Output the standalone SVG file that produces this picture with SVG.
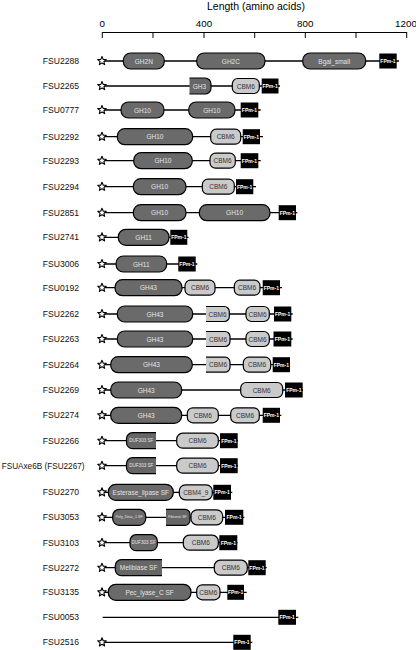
<svg xmlns="http://www.w3.org/2000/svg" width="416" height="650" viewBox="0 0 416 650">
<style>
text{font-family:"Liberation Sans",Arial,sans-serif}
.bb{stroke:#000;stroke-width:1.3}
.d{fill:#6a6a6a;stroke:#000;stroke-width:1.2}
.c{fill:#cacaca;stroke:#000;stroke-width:1.2}
.dn{fill:#666}
.cn{fill:#cacaca}
.ol{fill:none;stroke:#000;stroke-width:1.2}
.f{fill:#000}
.lbl{font-size:8.6px;text-anchor:end;fill:#111}
.dt{font-size:6.5px;fill:#e4e4e4;text-anchor:middle;dominant-baseline:central}
.ct{font-size:6.5px;fill:#333;text-anchor:middle;dominant-baseline:central}
.ft{font-size:5px;font-weight:bold;fill:#fff;text-anchor:middle;dominant-baseline:central}
.st{fill:#fff;stroke:#000;stroke-width:1.1;stroke-linejoin:round}
</style>
<defs>
<path id="star" class="st" d="M0,-4.5 L1.18,-1.62 L4.28,-1.39 L1.9,0.62 L2.65,3.64 L0,2 L-2.65,3.64 L-1.9,0.62 L-4.28,-1.39 L-1.18,-1.62 Z"/>
</defs>
<g id="axis">
<text x="256" y="10" font-size="10.5" text-anchor="middle">Length (amino acids)</text>
<text x="102.3" y="27" font-size="9.8" text-anchor="middle">0</text>
<text x="204" y="27" font-size="9.8" text-anchor="middle">400</text>
<text x="305.3" y="27" font-size="9.8" text-anchor="middle">800</text>
<text x="406" y="27" font-size="9.8" text-anchor="middle">1200</text>
<path d="M102.3,32.5 H406.7 M102.3,32 V38 M153,32.5 V38 M204,32.5 V38 M254.7,32.5 V38 M305.3,32.5 V38 M356,32.5 V38 M406.7,32 V38" stroke="#000" stroke-width="1" fill="none"/>
</g>
<g id="connectors"></g>

<g id="FSU2288">
<text class="lbl" x="79" y="64">FSU2288</text>
<line class="bb" x1="102" y1="61" x2="399" y2="61"/>
<use href="#star" x="102" y="61"/>
<rect class="d" x="123.3" y="53" width="41" height="16" rx="7.5"/><text class="dt" x="143.8" y="61">GH2N</text>
<rect class="d" x="196.7" y="53" width="68.3" height="16" rx="7.5"/><text class="dt" x="230.9" y="61">GH2C</text>
<rect class="d" x="302.7" y="53" width="63" height="16" rx="7.5"/><text class="dt" x="334.2" y="61">Bgal_small</text>
<rect class="f" x="379.3" y="53.5" width="17.4" height="15"/><text class="ft" x="388" y="61">FPm-1</text>
</g>

<g id="FSU2265">
<text class="lbl" x="79" y="89">FSU2265</text>
<line class="bb" x1="102" y1="86" x2="280" y2="86"/>
<use href="#star" x="102" y="86"/>
<path class="dn" d="M189.5,78 H205 A6,6 0 0 1 211,84 V88 A6,6 0 0 1 205,94 H189.5 Z"/><path class="ol" d="M189.5,78 H205 A6,6 0 0 1 211,84 V88 A6,6 0 0 1 205,94 H189.5"/><text class="dt" x="199.5" y="86">GH3</text>
<rect class="c" x="232.3" y="78.5" width="27" height="15" rx="5.5"/><text class="ct" x="245.8" y="86">CBM6</text>
<rect class="f" x="261.7" y="78.5" width="16.8" height="15"/><text class="ft" x="270.1" y="86">FPm-1</text>
</g>

<g id="FSU0777">
<text class="lbl" x="79" y="113">FSU0777</text>
<line class="bb" x1="102" y1="110" x2="260.7" y2="110"/>
<use href="#star" x="102" y="110"/>
<rect class="d" x="121" y="102" width="43" height="16" rx="7.5"/><text class="dt" x="142.5" y="110">GH10</text>
<rect class="d" x="188.7" y="102" width="46.3" height="16" rx="7.5"/><text class="dt" x="211.8" y="110">GH10</text>
<rect class="f" x="240.7" y="102.5" width="17.6" height="15"/><text class="ft" x="249.5" y="110">FPm-1</text>
</g>

<g id="FSU2292">
<text class="lbl" x="79" y="139.7">FSU2292</text>
<line class="bb" x1="102" y1="136.7" x2="263" y2="136.7"/>
<use href="#star" x="102" y="136.7"/>
<rect class="d" x="117.3" y="128.7" width="75.4" height="16" rx="7.5"/><text class="dt" x="155" y="136.7">GH10</text>
<rect class="c" x="210.7" y="129.2" width="30" height="15" rx="5.5"/><text class="ct" x="225.7" y="136.7">CBM6</text>
<rect class="f" x="242.7" y="129.2" width="17.3" height="15"/><text class="ft" x="251.3" y="136.7">FPm-1</text>
</g>

<g id="FSU2293">
<text class="lbl" x="79" y="163.7">FSU2293</text>
<line class="bb" x1="102" y1="160.7" x2="260.7" y2="160.7"/>
<use href="#star" x="102" y="160.7"/>
<rect class="d" x="133.7" y="152.7" width="58.6" height="16" rx="7.5"/><text class="dt" x="163" y="160.7">GH10</text>
<rect class="c" x="210" y="153.2" width="25.3" height="15" rx="5.5"/><text class="ct" x="222.6" y="160.7">CBM6</text>
<rect class="f" x="240.7" y="153.2" width="17.6" height="15"/><text class="ft" x="249.5" y="160.7">FPm-1</text>
</g>

<g id="FSU2294">
<text class="lbl" x="79" y="189.7">FSU2294</text>
<line class="bb" x1="102" y1="186.7" x2="256" y2="186.7"/>
<use href="#star" x="102" y="186.7"/>
<rect class="d" x="133.3" y="178.7" width="52.7" height="16" rx="7.5"/><text class="dt" x="159.6" y="186.7">GH10</text>
<rect class="c" x="202.3" y="179.2" width="32" height="15" rx="5.5"/><text class="ct" x="218.3" y="186.7">CBM6</text>
<rect class="f" x="236" y="179.2" width="17.3" height="15"/><text class="ft" x="244.6" y="186.7">FPm-1</text>
</g>

<g id="FSU2851">
<text class="lbl" x="79" y="215.7">FSU2851</text>
<line class="bb" x1="102" y1="212.7" x2="297.3" y2="212.7"/>
<use href="#star" x="102" y="212.7"/>
<rect class="d" x="133.3" y="204.7" width="52.7" height="16" rx="7.5"/><text class="dt" x="159.6" y="212.7">GH10</text>
<rect class="d" x="199.3" y="204.7" width="70.7" height="16" rx="7.5"/><text class="dt" x="234.6" y="212.7">GH10</text>
<rect class="f" x="278.7" y="205.2" width="17.3" height="15"/><text class="ft" x="287.3" y="212.7">FPm-1</text>
</g>

<g id="FSU2741">
<text class="lbl" x="79" y="240.3">FSU2741</text>
<line class="bb" x1="102" y1="237.3" x2="188.5" y2="237.3"/>
<use href="#star" x="102" y="237.3"/>
<rect class="d" x="118.3" y="229.3" width="50.7" height="16" rx="7.5"/><text class="dt" x="143.6" y="237.3">GH11</text>
<rect class="f" x="170.3" y="229.8" width="17" height="15"/><text class="ft" x="178.8" y="237.3">FPm-1</text>
</g>

<g id="FSU3006">
<text class="lbl" x="79" y="267">FSU3006</text>
<line class="bb" x1="102" y1="264" x2="197.3" y2="264"/>
<use href="#star" x="102" y="264"/>
<rect class="d" x="116" y="256" width="50.7" height="16" rx="7.5"/><text class="dt" x="141.3" y="264">GH11</text>
<rect class="f" x="178.3" y="256.5" width="17.4" height="15"/><text class="ft" x="187" y="264">FPm-1</text>
</g>

<g id="FSU0192">
<text class="lbl" x="79" y="290.7">FSU0192</text>
<line class="bb" x1="102" y1="287.7" x2="282" y2="287.7"/>
<use href="#star" x="102" y="287.7"/>
<rect class="d" x="115" y="279.7" width="67" height="16" rx="7.5"/><text class="dt" x="148.5" y="287.7">GH43</text>
<rect class="c" x="185" y="280.2" width="30" height="15" rx="5.5"/><text class="ct" x="200" y="287.7">CBM6</text>
<rect class="c" x="234.3" y="280.2" width="25.7" height="15" rx="5.5"/><text class="ct" x="247.1" y="287.7">CBM6</text>
<rect class="f" x="262.7" y="280.2" width="17.3" height="15"/><text class="ft" x="271.3" y="287.7">FPm-1</text>
</g>

<g id="FSU2262">
<text class="lbl" x="79" y="317">FSU2262</text>
<line class="bb" x1="102" y1="314" x2="292.7" y2="314"/>
<use href="#star" x="102" y="314"/>
<rect class="d" x="117.3" y="306" width="75.4" height="16" rx="7.5"/><text class="dt" x="155" y="314">GH43</text>
<path class="cn" d="M206,306.5 H224.3 A5,5 0 0 1 229.3,311.5 V316.5 A5,5 0 0 1 224.3,321.5 H206 Z"/><path class="ol" d="M206,306.5 H224.3 A5,5 0 0 1 229.3,311.5 V316.5 A5,5 0 0 1 224.3,321.5 H206"/><text class="ct" x="217.6" y="314">CBM6</text>
<rect class="c" x="246" y="306.5" width="23.3" height="15" rx="5.5"/><text class="ct" x="257.6" y="314">CBM6</text>
<rect class="f" x="274" y="306.5" width="17.3" height="15"/><text class="ft" x="282.6" y="314">FPm-1</text>
</g>

<g id="FSU2263">
<text class="lbl" x="79" y="342">FSU2263</text>
<line class="bb" x1="102" y1="339" x2="292.7" y2="339"/>
<use href="#star" x="102" y="339"/>
<rect class="d" x="117.3" y="331" width="75.4" height="16" rx="7.5"/><text class="dt" x="155" y="339">GH43</text>
<path class="cn" d="M206,331.5 H225 A5,5 0 0 1 230,336.5 V341.5 A5,5 0 0 1 225,346.5 H206 Z"/><path class="ol" d="M206,331.5 H225 A5,5 0 0 1 230,336.5 V341.5 A5,5 0 0 1 225,346.5 H206"/><text class="ct" x="218" y="339">CBM6</text>
<rect class="c" x="246" y="331.5" width="23.3" height="15" rx="5.5"/><text class="ct" x="257.6" y="339">CBM6</text>
<rect class="f" x="273.5" y="331.5" width="17.8" height="15"/><text class="ft" x="282.4" y="339">FPm-1</text>
</g>

<g id="FSU2264">
<text class="lbl" x="79" y="367.7">FSU2264</text>
<line class="bb" x1="102" y1="364.7" x2="290" y2="364.7"/>
<use href="#star" x="102" y="364.7"/>
<rect class="d" x="110.7" y="356.7" width="81.6" height="16" rx="7.5"/><text class="dt" x="151.5" y="364.7">GH43</text>
<path class="cn" d="M206,357.2 H225 A5,5 0 0 1 230,362.2 V367.2 A5,5 0 0 1 225,372.2 H206 Z"/><path class="ol" d="M206,357.2 H225 A5,5 0 0 1 230,362.2 V367.2 A5,5 0 0 1 225,372.2 H206"/><text class="ct" x="218" y="364.7">CBM6</text>
<rect class="c" x="243.3" y="357.2" width="27.4" height="15" rx="5.5"/><text class="ct" x="257" y="364.7">CBM6</text>
<rect class="f" x="272.7" y="357.2" width="17.3" height="15"/><text class="ft" x="281.3" y="364.7">FPm-1</text>
</g>

<g id="FSU2269">
<text class="lbl" x="79" y="393">FSU2269</text>
<line class="bb" x1="102" y1="390" x2="303" y2="390"/>
<use href="#star" x="102" y="390"/>
<rect class="d" x="110.7" y="382" width="71" height="16" rx="7.5"/><text class="dt" x="146.2" y="390">GH43</text>
<rect class="c" x="240.7" y="382.5" width="42" height="15" rx="5.5"/><text class="ct" x="261.7" y="390">CBM6</text>
<rect class="f" x="285" y="382.5" width="17.7" height="15"/><text class="ft" x="293.8" y="390">FPm-1</text>
</g>

<g id="FSU2274">
<text class="lbl" x="79" y="418.3">FSU2274</text>
<line class="bb" x1="102" y1="415.3" x2="281.3" y2="415.3"/>
<use href="#star" x="102" y="415.3"/>
<rect class="d" x="110.7" y="407.3" width="71" height="16" rx="7.5"/><text class="dt" x="146.2" y="415.3">GH43</text>
<rect class="c" x="187.3" y="407.8" width="31" height="15" rx="5.5"/><text class="ct" x="202.8" y="415.3">CBM6</text>
<rect class="c" x="230.7" y="407.8" width="28.6" height="15" rx="5.5"/><text class="ct" x="245" y="415.3">CBM6</text>
<rect class="f" x="262.7" y="407.8" width="17.3" height="15"/><text class="ft" x="271.3" y="415.3">FPm-1</text>
</g>

<g id="FSU2266">
<text class="lbl" x="79" y="443.7">FSU2266</text>
<line class="bb" x1="102" y1="440.7" x2="238" y2="440.7"/>
<use href="#star" x="102" y="440.7"/>
<path class="dn" d="M156,432.7 H132.5 A6,6 0 0 0 126.5,438.7 V442.7 A6,6 0 0 0 132.5,448.7 H156 Z"/><path class="ol" d="M156,432.7 H132.5 A6,6 0 0 0 126.5,438.7 V442.7 A6,6 0 0 0 132.5,448.7 H156"/><text class="dt" x="141.3" y="440.7" style="font-size:4.6px">DUF303 SF</text>
<rect class="c" x="176.7" y="433.2" width="41.6" height="15" rx="6"/><text class="ct" x="197.5" y="440.7">CBM6</text>
<rect class="f" x="220" y="433.2" width="17.7" height="15"/><text class="ft" x="228.8" y="440.7">FPm-1</text>
</g>

<g id="FSUAxe6B">
<text class="lbl" x="84.5" y="468.7" style="font-size:8.2px">FSUAxe6B (FSU2267)</text>
<line class="bb" x1="102" y1="465.7" x2="238" y2="465.7"/>
<use href="#star" x="102" y="465.7"/>
<path class="dn" d="M156,457.7 H132.5 A6,6 0 0 0 126.5,463.7 V467.7 A6,6 0 0 0 132.5,473.7 H156 Z"/><path class="ol" d="M156,457.7 H132.5 A6,6 0 0 0 126.5,463.7 V467.7 A6,6 0 0 0 132.5,473.7 H156"/><text class="dt" x="141.3" y="465.7" style="font-size:4.6px">DUF303 SF</text>
<rect class="c" x="176.7" y="458.2" width="41.6" height="15" rx="6"/><text class="ct" x="197.5" y="465.7">CBM6</text>
<rect class="f" x="220" y="458.2" width="17.7" height="15"/><text class="ft" x="228.8" y="465.7">FPm-1</text>
</g>

<g id="FSU2270">
<text class="lbl" x="79" y="495.3">FSU2270</text>
<line class="bb" x1="102" y1="492.3" x2="232.3" y2="492.3"/>
<use href="#star" x="102" y="492.3"/>
<rect class="d" x="108.3" y="484.3" width="65" height="16" rx="7.5"/><text class="dt" x="140.8" y="492.3">Esterase_lipase SF</text>
<rect class="c" x="179.3" y="484.8" width="33" height="15" rx="6"/><text class="ct" x="195.8" y="492.3">CBM4_9</text>
<rect class="f" x="213.3" y="484.8" width="17.7" height="15"/><text class="ft" x="222.2" y="492.3">FPm-1</text>
</g>

<g id="FSU3053">
<text class="lbl" x="79" y="520.3">FSU3053</text>
<line class="bb" x1="102" y1="517.3" x2="244.3" y2="517.3"/>
<use href="#star" x="102" y="517.3"/>
<rect class="d" x="112.7" y="509.3" width="33" height="16" rx="6.5"/><text class="dt" x="129.2" y="517.3" style="font-size:3.6px">Poly_Deac_1 SF</text>
<path class="dn" d="M166,509.3 H185 A5,5 0 0 1 190,514.3 V520.3 A5,5 0 0 1 185,525.3 H166 Z"/><path class="ol" d="M166,509.3 H185 A5,5 0 0 1 190,514.3 V520.3 A5,5 0 0 1 185,525.3 H166"/><text class="dt" x="177.5" y="517.3" style="font-size:3.6px">Fibronin SF</text>
<rect class="c" x="191" y="509.8" width="31.7" height="15" rx="6"/><text class="ct" x="206.8" y="517.3">CBM6</text>
<rect class="f" x="225" y="509.8" width="18.3" height="15"/><text class="ft" x="234.2" y="517.3">FPm-1</text>
</g>

<g id="FSU3103">
<text class="lbl" x="79" y="545.7">FSU3103</text>
<line class="bb" x1="102" y1="542.7" x2="237.5" y2="542.7"/>
<use href="#star" x="102" y="542.7"/>
<rect class="d" x="130" y="534.7" width="27.3" height="16" rx="6"/><text class="dt" x="143.6" y="542.7" style="font-size:4.6px">DUF303 SF</text>
<rect class="c" x="183.3" y="535.2" width="35" height="15" rx="6"/><text class="ct" x="200.8" y="542.7">CBM6</text>
<rect class="f" x="219.3" y="535.2" width="18" height="15"/><text class="ft" x="228.3" y="542.7">FPm-1</text>
</g>

<g id="FSU2272">
<text class="lbl" x="79" y="570.7">FSU2272</text>
<line class="bb" x1="102" y1="567.7" x2="266.7" y2="567.7"/>
<use href="#star" x="102" y="567.7"/>
<path class="dn" d="M162,559.7 H121.3 A6,6 0 0 0 115.3,565.7 V569.7 A6,6 0 0 0 121.3,575.7 H162 Z"/><path class="ol" d="M162,559.7 H121.3 A6,6 0 0 0 115.3,565.7 V569.7 A6,6 0 0 0 121.3,575.7 H162"/><text class="dt" x="138.6" y="567.7">Melibiase SF</text>
<rect class="c" x="214.3" y="560.2" width="33" height="15" rx="6"/><text class="ct" x="230.8" y="567.7">CBM6</text>
<rect class="f" x="248.3" y="560.2" width="17.4" height="15"/><text class="ft" x="257" y="567.7">FPm-1</text>
</g>

<g id="FSU3135">
<text class="lbl" x="79" y="595.3">FSU3135</text>
<line class="bb" x1="102" y1="592.3" x2="246.7" y2="592.3"/>
<use href="#star" x="102" y="592.3"/>
<rect class="d" x="108.3" y="584.3" width="82.7" height="16" rx="7.5"/><text class="dt" x="149.6" y="592.3">Pec_lyase_C SF</text>
<rect class="c" x="196.7" y="584.8" width="23.3" height="15" rx="5.5"/><text class="ct" x="208.3" y="592.3">CBM6</text>
<rect class="f" x="227.3" y="584.8" width="16.7" height="15"/><text class="ft" x="235.6" y="592.3">FPm-1</text>
</g>

<g id="FSU0053">
<text class="lbl" x="79" y="620.3">FSU0053</text>
<line class="bb" x1="102.7" y1="617.3" x2="298.3" y2="617.3"/>
<rect class="f" x="278.3" y="609.8" width="17.7" height="15"/><text class="ft" x="287.2" y="617.3">FPm-1</text>
</g>

<g id="FSU2516">
<text class="lbl" x="79" y="645.3">FSU2516</text>
<line class="bb" x1="102" y1="642.3" x2="252.3" y2="642.3"/>
<use href="#star" x="102" y="642.3"/>
<rect class="f" x="233.3" y="634.8" width="17.4" height="15"/><text class="ft" x="242" y="642.3">FPm-1</text>
</g>
</svg>
